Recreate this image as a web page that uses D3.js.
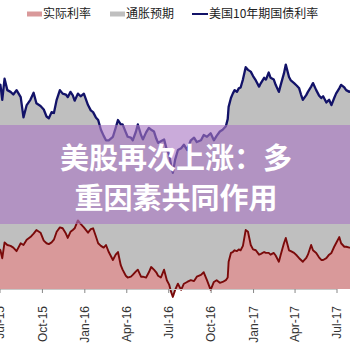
<!DOCTYPE html>
<html>
<head>
<meta charset="utf-8">
<script src="https://cdn.jsdelivr.net/npm/d3@7"></script>
<style>
  body { margin: 0; background: #fff; }
  svg { display: block; }
</style>
</head>
<body>
<div class="canvas"></div>
<script>
// data (percent)
const dates = [
  '2015-06-27', '2015-07-03', '2015-07-07', '2015-07-12', '2015-07-18', '2015-07-25', '2015-07-31', '2015-08-07',
  '2015-08-16', '2015-08-22', '2015-08-29', '2015-09-06', '2015-09-13', '2015-09-19', '2015-09-28', '2015-10-05',
  '2015-10-11', '2015-10-16', '2015-10-22', '2015-10-27', '2015-11-02', '2015-11-09', '2015-11-15', '2015-11-22',
  '2015-11-26', '2015-12-02', '2015-12-07', '2015-12-11', '2015-12-18', '2015-12-24', '2015-12-31', '2016-01-09',
  '2016-01-15', '2016-01-20', '2016-01-26', '2016-01-31', '2016-02-06', '2016-02-12', '2016-02-17', '2016-02-23',
  '2016-03-03', '2016-03-09', '2016-03-14', '2016-03-20', '2016-03-24', '2016-03-31', '2016-04-04', '2016-04-11',
  '2016-04-15', '2016-04-22', '2016-04-26', '2016-05-03', '2016-05-07', '2016-05-14', '2016-05-20', '2016-05-25',
  '2016-05-31', '2016-06-05', '2016-06-09', '2016-06-15', '2016-06-22', '2016-06-28', '2016-07-03', '2016-07-07',
  '2016-07-11', '2016-07-16', '2016-07-22', '2016-07-29', '2016-08-04', '2016-08-11', '2016-08-19', '2016-08-26',
  '2016-09-01', '2016-09-10', '2016-09-16', '2016-09-23', '2016-10-01', '2016-10-08', '2016-10-14', '2016-10-21',
  '2016-10-27', '2016-11-03', '2016-11-07', '2016-11-09', '2016-11-14', '2016-11-18', '2016-11-22', '2016-11-27',
  '2016-12-01', '2016-12-05', '2016-12-10', '2016-12-16', '2016-12-21', '2016-12-27', '2017-01-01', '2017-01-07',
  '2017-01-14', '2017-01-18', '2017-01-25', '2017-01-29', '2017-02-04', '2017-02-08', '2017-02-15', '2017-02-19',
  '2017-02-26', '2017-03-02', '2017-03-09', '2017-03-13', '2017-03-20', '2017-03-24', '2017-03-31', '2017-04-06',
  '2017-04-11', '2017-04-15', '2017-04-19', '2017-04-26', '2017-04-30', '2017-05-07', '2017-05-11', '2017-05-18',
  '2017-05-24', '2017-05-29', '2017-06-02', '2017-06-09', '2017-06-15', '2017-06-20', '2017-06-26', '2017-06-30',
  '2017-07-07', '2017-07-11', '2017-07-18', '2017-07-22', '2017-07-29', '2017-08-06'
];

// 实际利率
const realRate = [
  0.47, 0.44, 0.35, 0.53, 0.50, 0.49, 0.47, 0.43,
  0.52, 0.50, 0.56, 0.59, 0.63, 0.67, 0.64, 0.55,
  0.52, 0.51, 0.53, 0.56, 0.65, 0.70, 0.69, 0.63,
  0.58, 0.65, 0.67, 0.69, 0.78, 0.74, 0.70, 0.64,
  0.68, 0.69, 0.60, 0.52, 0.49, 0.47, 0.50, 0.42,
  0.33, 0.39, 0.42, 0.27, 0.22, 0.15, 0.13, 0.14,
  0.16, 0.20, 0.22, 0.14, 0.14, 0.13, 0.19, 0.25,
  0.22, 0.19, 0.15, 0.13, 0.22, 0.10, 0.05, -0.03,
  -0.09, -0.01, 0.06, -0.01, 0.06, 0.08, 0.10, 0.09,
  0.14, 0.16, 0.19, 0.10, -0.01, 0.08, 0.10, 0.07,
  0.08, 0.10, 0.13, 0.31, 0.41, 0.42, 0.44, 0.43,
  0.45, 0.44, 0.49, 0.67, 0.65, 0.50, 0.45, 0.44,
  0.39, 0.40, 0.42, 0.41, 0.41, 0.39, 0.41, 0.38,
  0.31, 0.39, 0.52, 0.58, 0.44, 0.43, 0.41, 0.38,
  0.35, 0.33, 0.31, 0.35, 0.39, 0.50, 0.44, 0.41,
  0.36, 0.33, 0.33, 0.35, 0.39, 0.41, 0.48, 0.52,
  0.59, 0.52, 0.48, 0.48, 0.47, 0.47
];

// 通胀预期
const inflationExp = [
  1.82, 1.88, 1.80, 1.86, 1.76, 1.75, 1.74, 1.83,
  1.66, 1.45, 1.53, 1.56, 1.60, 1.44, 1.44, 1.49,
  1.44, 1.43, 1.48, 1.44, 1.50, 1.56, 1.53, 1.58,
  1.60, 1.59, 1.53, 1.45, 1.44, 1.45, 1.52, 1.45,
  1.35, 1.32, 1.35, 1.40, 1.32, 1.27, 1.19, 1.27,
  1.40, 1.44, 1.50, 1.60, 1.65, 1.63, 1.60, 1.58,
  1.53, 1.59, 1.65, 1.61, 1.56, 1.65, 1.64, 1.56,
  1.57, 1.52, 1.51, 1.55, 1.48, 1.48, 1.48, 1.44,
  1.41, 1.48, 1.52, 1.61, 1.58, 1.50, 1.59, 1.63,
  1.53, 1.53, 1.56, 1.63, 1.78, 1.61, 1.64, 1.72,
  1.73, 1.75, 1.80, 1.76, 1.76, 1.80, 1.82, 1.81,
  1.83, 1.85, 1.89, 1.85, 1.84, 1.97, 1.97, 1.93,
  1.91, 1.94, 1.98, 1.97, 2.05, 2.01, 1.97, 1.94,
  1.93, 1.93, 1.93, 1.97, 1.97, 1.94, 1.93, 1.93,
  1.93, 1.88, 1.84, 1.85, 1.85, 1.80, 1.90, 1.85,
  1.84, 1.84, 1.86, 1.77, 1.76, 1.68, 1.69, 1.70,
  1.69, 1.80, 1.81, 1.78, 1.77, 1.80
];

const tickDates = [
  '2015-07-01', '2015-10-01', '2016-01-01', '2016-04-01', '2016-07-01',
  '2016-10-01', '2017-01-01', '2017-04-01', '2017-07-01'
];
const legendLabels = ['实际利率', '通胀预期', '美国10年期国债利率'];
const titleLines = ['美股再次上涨：多', '重因素共同作用'];

// set up dimensions
const width = 350;
const height = 350;
const baseY = 289;

const parse = d3.timeParse('%Y-%m-%d');
const rows = dates.map((d, i) => ({
  date: parse(d),
  real: realRate[i],
  be: inflationExp[i]
}));

const svg = d3
  .select('.canvas')
  .append('svg')
  .attr('width', width)
  .attr('height', height)
  .style('background', '#fff');

// x: time scale, left edge of the original chart is cut off
const x = d3
  .scaleTime()
  .domain([parse(tickDates[0]), parse(tickDates[tickDates.length - 1])])
  .range([-0.5, 336.5]);
const y = d3.scaleLinear().domain([0, 3]).range([baseY, baseY - 264]);

// stacked series: real rate at bottom, inflation expectation on top
const stacked = d3.stack().keys(['real', 'be'])(rows);

const plot = svg.append('g');

const area = d3
  .area()
  .x(d => x(d.data.date))
  .y0(d => y(d[0]))
  .y1(d => y(d[1]));

plot
  .selectAll('path.area')
  .data(stacked)
  .enter()
  .append('path')
  .attr('class', 'area')
  .attr('fill', (d, i) => (i === 0 ? '#d9999a' : '#bfbfbf'))
  .attr('d', area);

const topLine = d3
  .line()
  .x(d => x(d.data.date))
  .y(d => y(d[1]));

// real rate line
plot
  .append('path')
  .datum(stacked[0])
  .attr('fill', 'none')
  .attr('stroke', '#7a0a0a')
  .attr('stroke-width', 1.9)
  .attr('stroke-linejoin', 'round')
  .attr('d', topLine);

// 10y yield line
plot
  .append('path')
  .datum(stacked[1])
  .attr('fill', 'none')
  .attr('stroke', '#121268')
  .attr('stroke-width', 2.3)
  .attr('stroke-linejoin', 'round')
  .attr('d', topLine);

// x axis
const xAxis = d3
  .axisBottom(x)
  .tickValues(tickDates.map(parse))
  .tickFormat(d3.timeFormat('%b-%y'))
  .tickSizeInner(4)
  .tickSizeOuter(0);

const xAxisGroup = svg
  .append('g')
  .attr('transform', `translate(0, ${baseY})`)
  .call(xAxis);

xAxisGroup.select('.domain').attr('stroke', '#c8c8c8');
xAxisGroup.selectAll('.tick line').attr('stroke', '#888');
xAxisGroup
  .selectAll('text')
  .attr('transform', 'rotate(-90)')
  .attr('text-anchor', 'end')
  .attr('x', -17)
  .attr('y', 0)
  .attr('dy', '0.35em')
  .attr('fill', '#333')
  .style('font-family', 'Arial, "Liberation Sans", sans-serif')
  .style('font-size', '12px');

// legend
const legend = svg
  .append('g')
  .style('font-family', '"Noto Sans CJK SC", sans-serif')
  .style('font-size', '12px');

const legendX = [27, 110, 192];
legendLabels.forEach((label, i) => {
  const g = legend.append('g').attr('transform', `translate(${legendX[i]}, 14)`);
  if (i < 2) {
    g.append('rect')
      .attr('x', 0)
      .attr('y', -2.5)
      .attr('width', 15)
      .attr('height', 5)
      .attr('fill', i === 0 ? '#d9999a' : '#bfbfbf');
  } else {
    g.append('line')
      .attr('x1', 0)
      .attr('x2', 16)
      .attr('stroke', '#121268')
      .attr('stroke-width', 2);
  }
  g.append('text')
    .attr('x', i < 2 ? 16 : 17)
    .attr('dy', '0.35em')
    .attr('fill', '#222')
    .text(label);
});

// purple overlay band with title
svg
  .append('rect')
  .attr('x', 0)
  .attr('y', 125)
  .attr('width', width)
  .attr('height', 99)
  .attr('fill', 'rgba(170, 120, 195, 0.62)');

svg
  .selectAll('text.title')
  .data(titleLines)
  .enter()
  .append('text')
  .attr('class', 'title')
  .attr('x', 176)
  .attr('y', (d, i) => 156 + i * 40)
  .attr('text-anchor', 'middle')
  .attr('dominant-baseline', 'central')
  .attr('fill', '#fff')
  .style('font-family', '"Noto Sans CJK SC", sans-serif')
  .style('font-weight', 700)
  .style('font-size', '29px')
  .text(d => d);
</script>
</body>
</html>
